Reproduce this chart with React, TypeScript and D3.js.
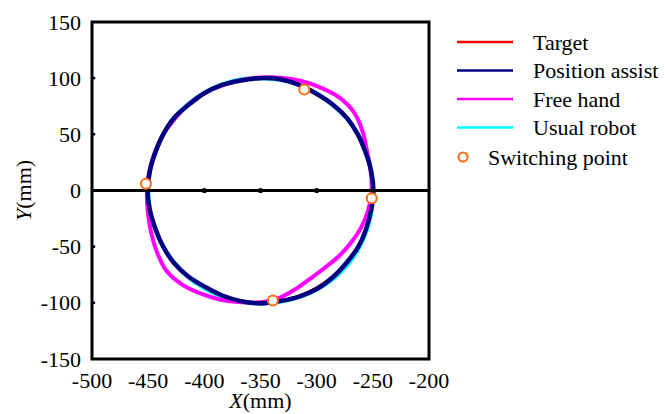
import React from "react";
import * as d3 from "d3";

const xTicks = [-500, -450, -400, -350, -300, -250, -200];
const yTicks = [150, 100, 50, 0, -50, -100, -150];
const centerX = -350;
const centerY = 0;
// angles (deg) at which the radii below were read, counter-clockwise from +X
const angles = [0, 10, 20, 30, 40, 50, 60, 70, 80, 90, 100, 110, 120, 130, 140, 150, 160, 170,
  180, 190, 200, 210, 220, 230, 240, 250, 260, 270, 280, 290, 300, 310, 320, 330, 340, 350];
const targetR = [100, 100, 100, 100, 100, 100, 100, 100, 100, 100, 100, 100, 100, 100, 100, 100, 100, 100,
  100, 100, 100, 100, 100, 100, 100, 100, 100, 100, 100, 100, 100, 100, 100, 100, 100, 100];
const assistR = [100.5, 100, 99.5, 100, 100.5, 100, 99.5, 100, 100.5, 100, 99.5, 100, 100, 99.5, 100.5, 100, 99.5, 100,
  100.5, 100, 99.5, 100, 100.5, 100, 99, 99.5, 100, 100.5, 100, 100.5, 101, 100.5, 100, 100.5, 100, 100];
const freeR = [99, 99.5, 101, 105, 108.5, 108.5, 106, 104, 102, 100.5, 100, 99.5, 100, 100, 99.5, 100, 100, 100.5,
  101, 102, 104, 107, 110, 109, 106, 103.5, 101, 99.5, 97, 93, 90, 89.5, 91, 93, 95.5, 97.5];
const usualR = [100, 100, 100.5, 100, 100, 99.5, 100, 100, 100, 100, 100.5, 100.5, 100.5, 100.5, 100.5, 100, 100, 100,
  100, 100, 100, 100, 100, 100.5, 100.5, 100.5, 100.5, 100.5, 100.5, 101, 101.5, 102, 102, 101.5, 101, 100.5];
const switchX = [-452, -311, -251, -339];
const switchY = [6, 90, -7, -98];

const seriesNames = ["Target", "Position assist", "Free hand", "Usual robot"];
const seriesColors = ["#FF0000", "#000080", "#FF00FF", "#00FFFF"];

export default function App() {
  const left = 92, right = 429, top = 22, bottom = 359;
  const x = d3.scaleLinear().domain([-500, -200]).range([left, right]);
  const y = d3.scaleLinear().domain([-150, 150]).range([bottom, top]);
  const toPts = (radii: number[]) =>
    radii.map((r, i) => {
      const a = (angles[i] * Math.PI) / 180;
      return [x(centerX + r * Math.cos(a)), y(centerY + r * Math.sin(a))] as [number, number];
    });
  const line = d3.line().curve(d3.curveCatmullRomClosed);
  const font = "'Liberation Serif', 'DejaVu Serif', 'Times New Roman', serif";
  const fs = 22;
  const legendY = [42, 70.5, 99, 127.5];

  return (
    <svg width={665} height={414} style={{ position: "absolute", left: 0, top: 0, background: "#fff", fontFamily: font, fontSize: fs }}>
      {/* series */}
      <path d={line(toPts(targetR)) || ""} fill="none" stroke={seriesColors[0]} strokeWidth={3} />
      <path d={line(toPts(usualR)) || ""} fill="none" stroke={seriesColors[3]} strokeWidth={4} />
      <path d={line(toPts(freeR)) || ""} fill="none" stroke={seriesColors[2]} strokeWidth={4} />
      <path d={line(toPts(assistR)) || ""} fill="none" stroke={seriesColors[1]} strokeWidth={4.5} />
      {/* zero line */}
      <line x1={x(-500)} x2={x(-200)} y1={y(0)} y2={y(0)} stroke="#000" strokeWidth={3} />
      {[-400, -350, -300].map((t) => (
        <circle key={t} cx={x(t)} cy={y(0)} r={2.6} fill="#000" />
      ))}
      {yTicks.filter((t) => t !== 0 && Math.abs(t) !== 150).map((t) => (
        <circle key={t} cx={x(-500) + 2} cy={y(t)} r={1.3} fill="#000" />
      ))}
      {/* frame */}
      <rect x={left} y={top} width={right - left} height={bottom - top} fill="none" stroke="#000" strokeWidth={3} />
      {/* switching points */}
      {switchX.map((sx, i) => (
        <circle key={i} cx={x(sx)} cy={y(switchY[i])} r={5} fill="#fff" stroke="#FF6A13" strokeWidth={2} />
      ))}
      {/* tick labels */}
      {xTicks.map((t) => (
        <text key={t} x={x(t)} y={388} textAnchor="middle">{t}</text>
      ))}
      {yTicks.map((t) => (
        <text key={t} x={81} y={y(t) + 7.5} textAnchor="end">{t}</text>
      ))}
      {/* axis titles */}
      <text x={x(-350)} y={408} textAnchor="middle">
        <tspan fontStyle="italic">X</tspan>(mm)
      </text>
      <text transform={`translate(31,${y(0)}) rotate(-90)`} textAnchor="middle">
        <tspan fontStyle="italic">Y</tspan>(mm)
      </text>
      {/* legend */}
      {seriesNames.map((n, i) => (
        <g key={n}>
          <line x1={457} x2={513} y1={legendY[i]} y2={legendY[i]} stroke={seriesColors[i]} strokeWidth={2.5} />
          <text x={533} y={legendY[i] + 7.5}>{n}</text>
        </g>
      ))}
      <circle cx={463} cy={157} r={4.5} fill="#fff" stroke="#FF6A13" strokeWidth={2} />
      <text x={488} y={164.5}>Switching point</text>
    </svg>
  );
}
